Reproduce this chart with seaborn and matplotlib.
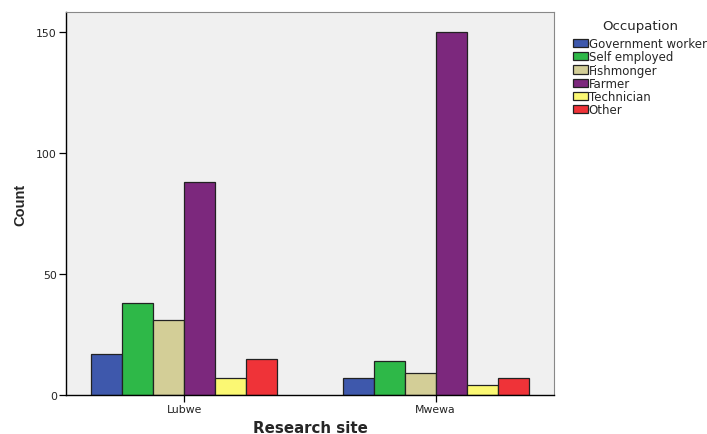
import pandas as pd
import matplotlib.pyplot as plt
import seaborn as sns

sites = ["Lubwe", "Mwewa"]
occupations = ["Government worker", "Self employed", "Fishmonger",
               "Farmer", "Technician", "Other"]
lubwe_counts = [17, 38, 31, 88, 7, 15]
mwewa_counts = [7, 14, 9, 150, 4, 7]
colors = ["#3E58AC", "#2EB848", "#D3CE97", "#7C287D", "#FBF873", "#EF3338"]

rows = []
for site, counts in zip(sites, [lubwe_counts, mwewa_counts]):
    for occ, c in zip(occupations, counts):
        rows.append({"site": site, "occupation": occ, "count": c})
df = pd.DataFrame(rows)

sns.set_style("white")
plt.rcParams["font.family"] = ["DejaVu Sans"]

fig = plt.figure(figsize=(7.07, 4.35), dpi=100)
ax = fig.add_axes([0.0934, 0.0897, 0.690, 0.880])
ax.set_facecolor("#F0F0F0")

sns.barplot(data=df, x="site", y="count", hue="occupation",
            hue_order=occupations, palette=colors, saturation=1,
            width=0.74, edgecolor="#222222", linewidth=0.9, ax=ax)

ax.set_xlim(-0.47, 1.47)
ax.set_ylim(0, 158)
ax.set_yticks([0, 50, 100, 150])
ax.tick_params(axis="both", direction="out", length=5, width=0.9,
               colors="black", labelsize=7.8, pad=1.5, left=True, bottom=True)
for lab in ax.get_xticklabels() + ax.get_yticklabels():
    lab.set_color("#222222")
ax.set_xlabel("Research site", fontsize=10.8, fontweight="bold")
ax.xaxis.set_label_coords(0.5, -0.066)
ax.set_ylabel("Count", fontsize=10.5, fontweight="bold",
              family=["Liberation Sans", "DejaVu Sans"])
ax.yaxis.set_label_coords(-0.079, 0.5)

for side in ["left", "bottom"]:
    ax.spines[side].set_color("black")
    ax.spines[side].set_linewidth(1.0)
for side in ["top", "right"]:
    ax.spines[side].set_color("#888888")
    ax.spines[side].set_linewidth(0.8)

ax.legend_.remove()
handles, labels = ax.get_legend_handles_labels()
leg = fig.legend(handles, labels, title="Occupation", loc="upper left",
                 bbox_to_anchor=(0.811, 0.955), frameon=False, fontsize=8.5,
                 title_fontsize=9.5, handlelength=1.2, handleheight=0.7,
                 handletextpad=0.1, labelspacing=0.02, borderaxespad=0,
                 borderpad=0)
leg._legend_box.align = "center"
leg._legend_box.sep = 4

fig.savefig("out.png", dpi=100)
